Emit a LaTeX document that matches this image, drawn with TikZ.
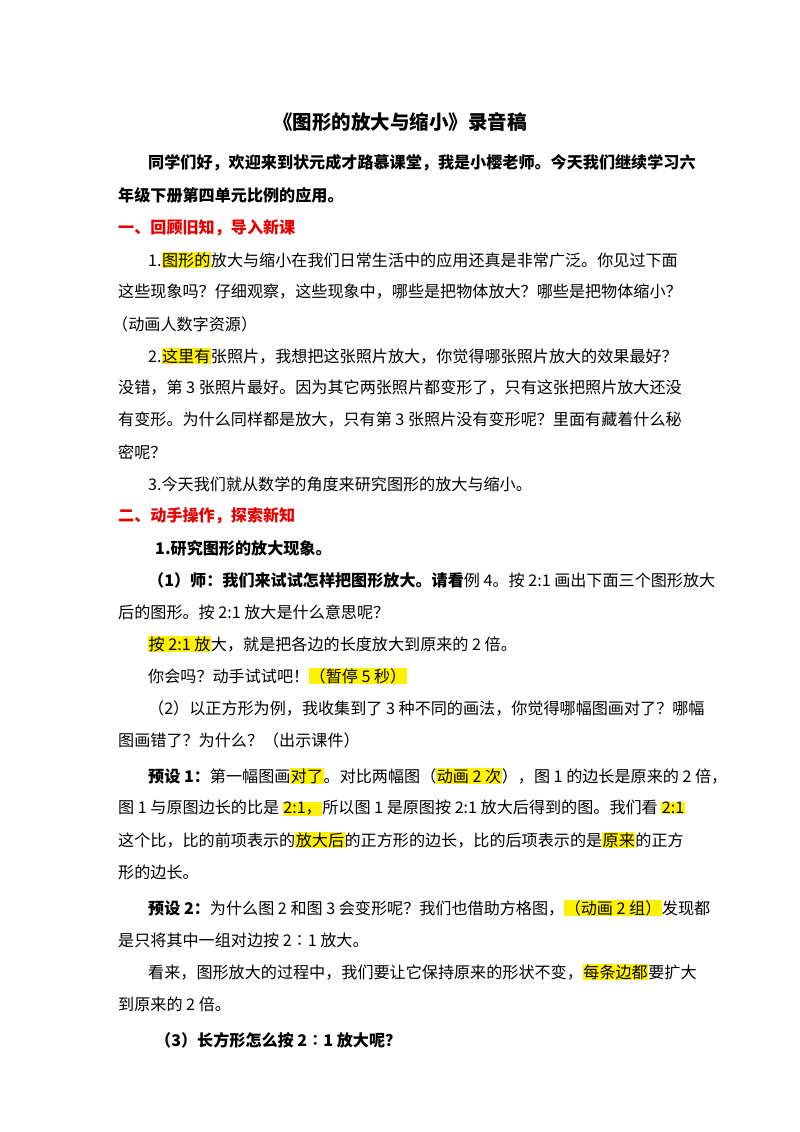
\documentclass[tikz,border=0pt]{standalone}
\usepackage{fontspec}
\setmainfont{Noto Sans CJK SC}
\usepackage{xcolor}
\newcommand\hl[1]{{\setlength\fboxsep{0.5pt}\colorbox{yellow}{#1}}}
\begin{document}
\begin{tikzpicture}[x=1pt,y=-1pt,
  ln/.style={anchor=west,inner sep=0pt,font=\fontsize{16.1}{17}\selectfont},
  bl/.style={ln,font=\fontsize{16.1}{17}\selectfont\bfseries},
  hd/.style={ln,font=\fontsize{16.1}{17}\selectfont\bfseries,text={rgb,255:red,230;green,0;blue,0}}]
\useasboundingbox (0,0) rectangle (800,1132);
\fill[white] (0,0) rectangle (800,1132);
\node[inner sep=0pt,font=\fontsize{19.5}{20}\selectfont\bfseries] (t) at (400,122) {《图形的放大与缩小》录音稿};
\node[bl] (l1) at (148,163) {同学们好，欢迎来到状元成才路慕课堂，我是小樱老师。今天我们继续学习六};
\node[bl] (l2) at (118,195) {年级下册第四单元比例的应用。};
\node[hd] (h1) at (118,228) {一、回顾旧知，导入新课};
\node[ln] (l3) at (148,260) {1.\hl{图形的}放大与缩小在我们日常生活中的应用还真是非常广泛。你见过下面};
\node[ln] (l4) at (118,292) {这些现象吗？仔细观察，这些现象中，哪些是把物体放大？哪些是把物体缩小？};
\node[ln] (l5) at (112,324) {（动画人数字资源）};
\node[ln] (l6) at (148,356) {2.\hl{这里有}张照片，我想把这张照片放大，你觉得哪张照片放大的效果最好？};
\node[ln] (l7) at (118,388) {没错，第 3 张照片最好。因为其它两张照片都变形了，只有这张把照片放大还没};
\node[ln] (l8) at (118,420) {有变形。为什么同样都是放大，只有第 3 张照片没有变形呢？里面有藏着什么秘};
\node[ln] (l9) at (118,452) {密呢？};
\node[ln] (l10) at (148,484) {3.今天我们就从数学的角度来研究图形的放大与缩小。};
\node[hd] (h2) at (118,516) {二、动手操作，探索新知};
\node[bl] (l11) at (155,548) {1.研究图形的放大现象。};
\node[ln] (l12) at (148,580) {\textbf{（1）师：我们来试试怎样把图形放大。请看}例 4。按 2:1 画出下面三个图形放大};
\node[ln] (l13) at (118,612) {后的图形。按 2:1 放大是什么意思呢？};
\node[ln] (l14) at (148,644) {\hl{按 2:1 放}大，就是把各边的长度放大到原来的 2 倍。};
\node[ln] (l15) at (148,676) {你会吗？动手试试吧！\hl{（暂停 5 秒）}};
\node[ln] (l16) at (148,708) {（2）以正方形为例，我收集到了 3 种不同的画法，你觉得哪幅图画对了？哪幅};
\node[ln] (l17) at (118,740) {图画错了？为什么？（出示课件）};
\node[ln] (l18) at (148,776) {\textbf{预设 1：}第一幅图画\hl{对了}。对比两幅图（\hl{动画 2 次}），图 1 的边长是原来的 2 倍，};
\node[ln] (l19) at (118,808) {图 1 与原图边长的比是 \hl{2:1，}所以图 1 是原图按 2:1 放大后得到的图。我们看 \hl{2:1}};
\node[ln] (l20) at (118,840) {这个比，比的前项表示的\hl{放大后}的正方形的边长，比的后项表示的是\hl{原来}的正方};
\node[ln] (l21) at (118,872) {形的边长。};
\node[ln] (l22) at (148,908) {\textbf{预设 2：}为什么图 2 和图 3 会变形呢？我们也借助方格图，\hl{（动画 2 组）}发现都};
\node[ln] (l23) at (118,940) {是只将其中一组对边按 2∶1 放大。};
\node[ln] (l24) at (148,972) {看来，图形放大的过程中，我们要让它保持原来的形状不变，\hl{每条边都}要扩大};
\node[ln] (l25) at (118,1004) {到原来的 2 倍。};
\node[bl] (l26) at (155,1040) {（3）长方形怎么按 2∶1 放大呢？};
\end{tikzpicture}
\end{document}
